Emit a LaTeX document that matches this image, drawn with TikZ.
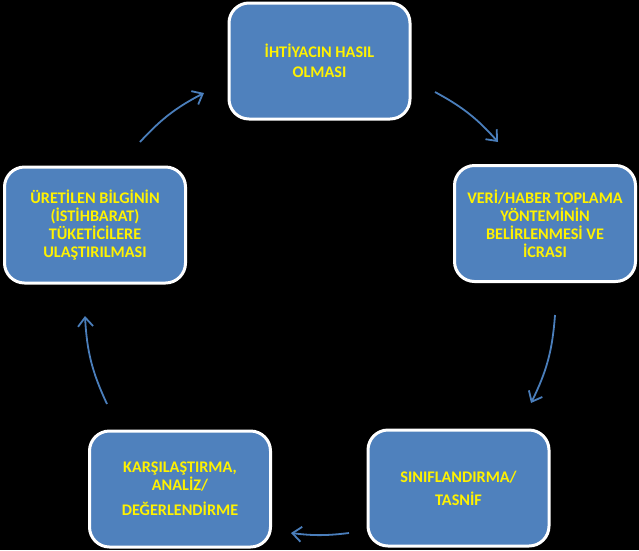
\documentclass[tikz,border=0pt]{standalone}
\usepackage{fontspec}
\setmainfont{Carlito}
\usepackage{xcolor}
\usetikzlibrary{arrows.meta}

\definecolor{boxblue}{HTML}{4F81BD}
\definecolor{arrowblue}{HTML}{4A7EBB}

\tikzset{
	stage/.style={draw=white, line width=3pt, fill=boxblue, rounded corners=20pt,
		minimum width=181pt, minimum height=116pt, inner sep=2pt,
		text=yellow, align=center, font=\fontsize{16.2}{18}\selectfont\bfseries},
	turn/.style={draw=arrowblue, line width=1.8pt, -{Straight Barb[length=9pt,width=15pt]}},
}

\begin{document}
\begin{tikzpicture}[x=1pt,y=-1pt]
		\fill[black] (0,0) rectangle (639,550);
		\useasboundingbox (0,0) rectangle (639,550);

		% stages of the cycle
		\node[stage] (need)     at (319.5,61)  {İHTİYACIN HASIL\\[2pt]OLMASI};
		\node[stage] (method)   at (545,223.5) {VERİ/HABER TOPLAMA\\YÖNTEMİNİN\\BELİRLENMESİ VE\\İCRASI};
		\node[stage] (classify) at (458.5,488) {SINIFLANDIRMA/\\[5pt]TASNİF};
		\node[stage] (analyse)  at (180,489)   {KARŞILAŞTIRMA,\\ANALİZ/\\[7pt]DEĞERLENDİRME};
		\node[stage] (deliver)  at (95,225)    {ÜRETİLEN BİLGİNİN\\(İSTİHBARAT)\\TÜKETİCİLERE\\ULAŞTIRILMASI};

		% arrow ends
		\coordinate (need-out)     at (435,92);
		\coordinate (method-in)    at (498,142);
		\coordinate (method-out)   at (555,315);
		\coordinate (classify-in)  at (531,403);
		\coordinate (classify-out) at (349,533);
		\coordinate (analyse-in)   at (291,533);
		\coordinate (analyse-out)  at (107,404);
		\coordinate (deliver-in)   at (85,316);
		\coordinate (deliver-out)  at (140,142);
		\coordinate (need-in)      at (204,93);

		\draw[turn] (need-out)     to[bend left=10] (method-in);
		\draw[turn] (method-out)   to[bend left=11] (classify-in);
		\draw[turn] (classify-out) to[bend left=7]  (analyse-in);
		\draw[turn] (analyse-out)  to[bend left=11] (deliver-in);
		\draw[turn] (deliver-out)  to[bend left=10] (need-in);
	\end{tikzpicture}
\end{document}
